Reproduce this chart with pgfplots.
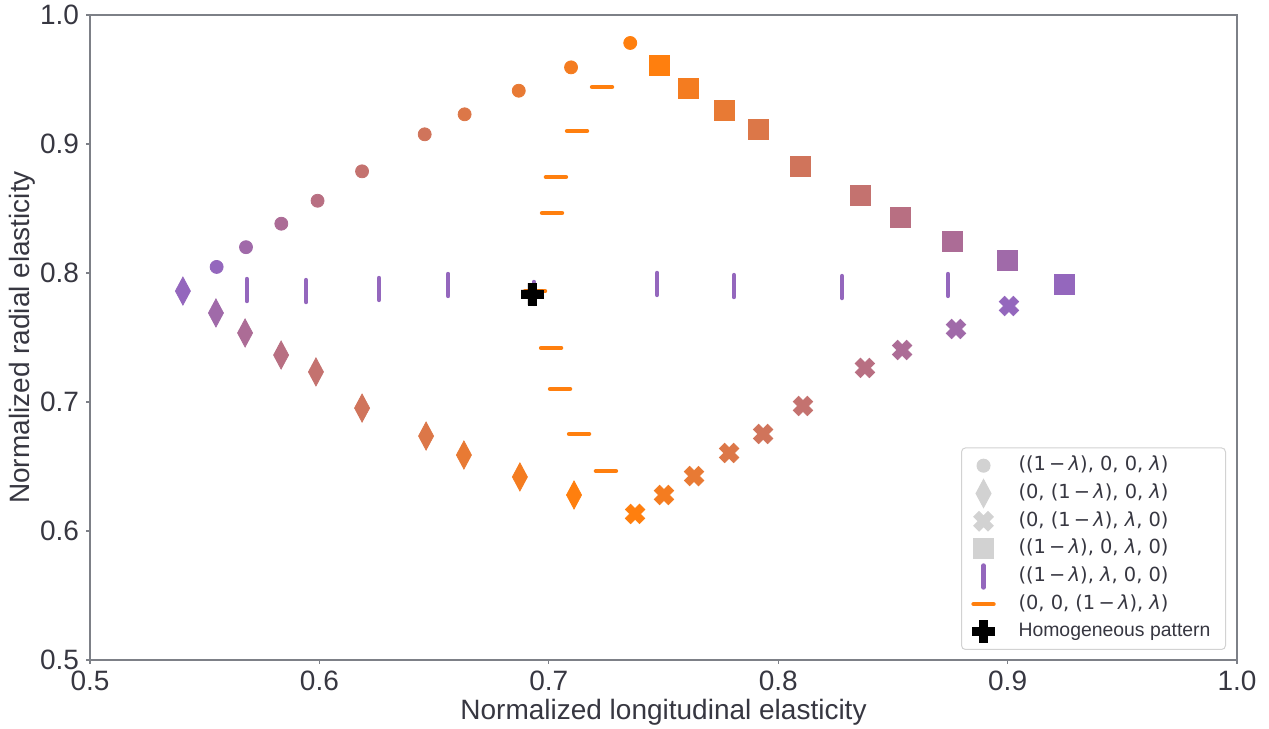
\documentclass[border=0pt]{standalone}
\usepackage{fontspec}
\setmainfont{Liberation Sans}
\newfontfamily\dejavu{DejaVu Sans}
\usepackage{pgfplots}
\pgfplotsset{compat=1.18}
\usepackage{pgfplotstable}

\definecolor{cpurple}{RGB}{148,103,189}
\definecolor{corange}{RGB}{255,127,14}
\definecolor{lgray}{RGB}{210,210,210}
\definecolor{linec}{RGB}{125,128,135}
\definecolor{textc}{RGB}{55,55,65}

\pgfdeclareplotmark{Pfill}{%
  \pgfmathsetlengthmacro\pmr{\pgfplotmarksize}%
  \pgfmathsetlengthmacro\pmt{0.37*\pgfplotmarksize}%
  \pgfpathmoveto{\pgfqpoint{\pmt}{\pmr}}%
  \pgfpathlineto{\pgfqpoint{\pmt}{\pmt}}%
  \pgfpathlineto{\pgfqpoint{\pmr}{\pmt}}%
  \pgfpathlineto{\pgfqpoint{\pmr}{-\pmt}}%
  \pgfpathlineto{\pgfqpoint{\pmt}{-\pmt}}%
  \pgfpathlineto{\pgfqpoint{\pmt}{-\pmr}}%
  \pgfpathlineto{\pgfqpoint{-\pmt}{-\pmr}}%
  \pgfpathlineto{\pgfqpoint{-\pmt}{-\pmt}}%
  \pgfpathlineto{\pgfqpoint{-\pmr}{-\pmt}}%
  \pgfpathlineto{\pgfqpoint{-\pmr}{\pmt}}%
  \pgfpathlineto{\pgfqpoint{-\pmt}{\pmt}}%
  \pgfpathlineto{\pgfqpoint{-\pmt}{\pmr}}%
  \pgfpathclose
  \pgfusepathqfillstroke
}

\pgfplotstableread{
x y m
0.5552 0.8047 0
0.5680 0.8200 1
0.5834 0.8382 2
0.5992 0.8560 3
0.6186 0.8788 4
0.6459 0.9075 5
0.6633 0.9230 6
0.6869 0.9413 7
0.7097 0.9594 8
0.7355 0.9783 9
}\circles

\pgfplotstableread{
x y m
0.5405 0.7860 0
0.5549 0.7690 1
0.5676 0.7535 2
0.5833 0.7364 3
0.5985 0.7233 4
0.6186 0.6953 5
0.6465 0.6736 6
0.6630 0.6589 7
0.6874 0.6419 8
0.7110 0.6279 9
}\diamonds

\pgfplotstableread{
x y m
0.7376 0.6132 9
0.7502 0.6279 8
0.7633 0.6426 7
0.7786 0.6605 6
0.7934 0.6752 5
0.8108 0.6969 4
0.8378 0.7264 3
0.8540 0.7403 2
0.8775 0.7566 1
0.9006 0.7744 0
}\crosses

\pgfplotstableread{
x y m
0.7480 0.9612 9
0.7607 0.9434 8
0.7764 0.9264 7
0.7912 0.9116 6
0.8095 0.8829 5
0.8357 0.8605 4
0.8531 0.8434 3
0.8758 0.8248 2
0.8997 0.8101 1
0.9246 0.7915 0
}\squares

\pgfplotstableread{
x y
0.5684 0.7868
0.5942 0.7860
0.6260 0.7876
0.6561 0.7907
0.6935 0.7845
0.7472 0.7915
0.7807 0.7899
0.8278 0.7891
0.8740 0.7907
}\vbars

\pgfplotstableread{
x y
0.7232 0.9442
0.7123 0.9101
0.7031 0.8744
0.7014 0.8465
0.6940 0.7860
0.7010 0.7419
0.7049 0.7101
0.7132 0.6752
0.7249 0.6465
}\hbars

\begin{document}
\begin{tikzpicture}
\begin{axis}[
  scale only axis,
  width=573.5pt, height=322.5pt,
  xmin=0.5, xmax=1.0, ymin=0.5, ymax=1.0,
  xtick={0.5,0.6,0.7,0.8,0.9,1.0},
  ytick={0.5,0.6,0.7,0.8,0.9,1.0},
  xtick pos=bottom, ytick pos=left,
  tick align=outside,
  major tick length=2pt,
  every tick/.style={linec, line width=0.6pt},
  axis line style={linec, line width=0.65pt},
  /pgf/number format/.cd, fixed, fixed zerofill, precision=1, assume math mode=true,
  /pgfplots/.cd,
  every tick label/.append style={font=\fontsize{14}{16}\selectfont, text=textc},
  xlabel={Normalized longitudinal elasticity},
  ylabel={Normalized radial elasticity},
  label style={font=\fontsize{14}{16}\selectfont, text=textc},
  xlabel style={at={(axis description cs:0.5,-0.0806)}, anchor=center},
  ylabel style={at={(axis description cs:-0.0593,0.5)}, anchor=center},
  colormap={pumor}{rgb255=(148,103,189) rgb255=(255,127,14)},
  point meta min=0, point meta max=9,
  legend cell align=left,
  legend style={at={(rel axis cs:0.9904,0.0155)}, anchor=south east,
    draw=lgray, rounded corners=2pt, line width=0.5pt, fill=white,
    font=\fontsize{9.7}{11}\selectfont, text=textc,
    nodes={text height=7pt, text depth=2pt, inner ysep=2.4pt},
    /tikz/every odd column/.append style={column sep=10pt},
    inner xsep=5.5pt, inner ysep=2pt},
]
\addplot[scatter, only marks, mark=*, mark size=3.25pt, point meta=explicit, forget plot,
  scatter/use mapped color={draw=mapped color, fill=mapped color}]
  table[x=x, y=y, meta=m] {\circles};
\addplot[scatter, only marks, mark=diamond*, mark size=7pt, mark options={xscale=0.714}, point meta=explicit, forget plot,
  scatter/use mapped color={draw=mapped color, fill=mapped color}]
  table[x=x, y=y, meta=m] {\diamonds};
\addplot[scatter, only marks, mark=Pfill, mark size=5pt, mark options={rotate=45}, point meta=explicit, forget plot,
  scatter/use mapped color={draw=mapped color, fill=mapped color}]
  table[x=x, y=y, meta=m] {\crosses};
\addplot[scatter, only marks, mark=square*, mark size=5pt, point meta=explicit, forget plot,
  scatter/use mapped color={draw=mapped color, fill=mapped color}]
  table[x=x, y=y, meta=m] {\squares};
\addplot[only marks, mark=|, mark size=5.5pt, color=cpurple, mark options={line width=2.2pt, line cap=round}, forget plot]
  table[x=x, y=y] {\vbars};
\addplot[only marks, mark=-, mark size=5pt, color=corange, mark options={line width=2.2pt, line cap=round}, forget plot]
  table[x=x, y=y] {\hbars};
\addplot[only marks, mark=Pfill, mark size=5.5pt, color=black, forget plot]
  coordinates {(0.6927,0.7837)};

\addlegendimage{only marks, mark=*, mark size=3.25pt, color=lgray}
\addlegendentry{{\dejavu ((1\,−\,\textit{λ}), 0, 0, \textit{λ})}}
\addlegendimage{only marks, mark=diamond*, mark size=7pt, mark options={xscale=0.714}, color=lgray}
\addlegendentry{{\dejavu (0, (1\,−\,\textit{λ}), 0, \textit{λ})}}
\addlegendimage{only marks, mark=Pfill, mark size=5pt, mark options={rotate=45}, color=lgray}
\addlegendentry{{\dejavu (0, (1\,−\,\textit{λ}), \textit{λ}, 0)}}
\addlegendimage{only marks, mark=square*, mark size=5pt, color=lgray}
\addlegendentry{{\dejavu ((1\,−\,\textit{λ}), 0, \textit{λ}, 0)}}
\addlegendimage{only marks, mark=|, mark size=5.5pt, color=cpurple, mark options={line width=2.2pt, line cap=round}}
\addlegendentry{{\dejavu ((1\,−\,\textit{λ}), \textit{λ}, 0, 0)}}
\addlegendimage{only marks, mark=-, mark size=5pt, color=corange, mark options={line width=2.2pt, line cap=round}}
\addlegendentry{{\dejavu (0, 0, (1\,−\,\textit{λ}), \textit{λ})}}
\addlegendimage{only marks, mark=Pfill, mark size=5.5pt, color=black}
\addlegendentry{Homogeneous pattern}

\coordinate (bl) at (rel axis cs:0,0);
\coordinate (tr) at (rel axis cs:1,1);
\end{axis}
\pgfresetboundingbox
\path[use as bounding box] ([xshift=-45pt,yshift=-34.5pt]bl) rectangle ([xshift=16pt,yshift=7.5pt]tr);
\end{tikzpicture}
\end{document}
